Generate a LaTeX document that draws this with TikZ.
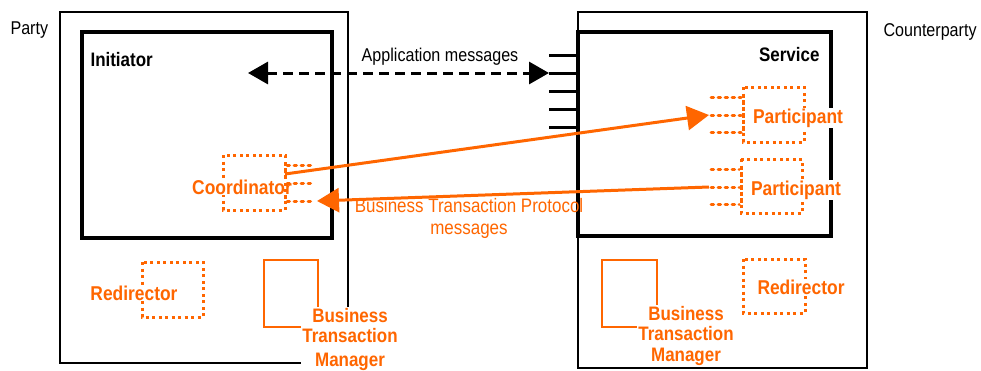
\documentclass[tikz,border=0pt]{standalone}
\usepackage{fontspec}
\setmainfont{Liberation Sans}[FakeStretch=0.87]
\usepackage{tikz,xcolor}
\usetikzlibrary{arrows.meta}
\definecolor{btporange}{RGB}{255,102,0}

\tikzset{
  plain/.style={font=\fontsize{18.5}{22}\selectfont},
  boxname/.style={font=\bfseries\fontsize{19.5}{22}\selectfont},
  role/.style={text=btporange, fill=white, inner sep=1pt, font=\bfseries\fontsize{20}{22}\selectfont},
  dotbox/.style={btporange, line width=3pt, dash pattern=on 3pt off 3.5pt},
  port/.style={btporange, line width=3pt, dash pattern=on 2.5pt off 4.5pt, line cap=round},
  msg/.style={btporange, line width=3pt, -{Triangle[length=22pt,width=24pt]}},
}

\begin{document}
\begin{tikzpicture}[x=1pt,y=-1pt]
\useasboundingbox (0,0) rectangle (981,370);

%party side
\draw[line width=1.5pt] (60,12) rectangle (348,363);
\node[plain, anchor=west] (party) at (7,30) {Party};
\draw[line width=3.5pt] (82,32) rectangle (332,238);
\node[boxname, anchor=west] (init) at (87,60) {Initiator};

%counterparty side
\draw[line width=1.5pt] (578,12) rectangle (867,368);
\node[plain, anchor=west] (cparty) at (880,32) {Counterparty};
\draw[line width=3.5pt] (578,32) rectangle (831,236);
\node[boxname, anchor=east] (serv) at (823,55) {Service};
\foreach \y in {55,73,91,109,127} \draw[line width=3pt] (549,\y) -- (578,\y);

%application messages
\coordinate (ip) at (248,73); \coordinate (sp) at (549,73);
\draw[line width=3pt, dash pattern=on 10pt off 6pt, {Triangle[length=20pt,width=22pt]}-{Triangle[length=20pt,width=22pt]}] (ip) -- (sp);
\node[plain] (appmsg) at (440,57) {Application messages};

%coordinator
\draw[dotbox] (223,155) rectangle (285,210);
\node[role] (coord) at (242,187) {Coordinator};
\draw[dotbox] (285,163) -- (285,203);
\foreach \y in {165,183,201} \draw[port] (287,\y) -- (315,\y);

%participants
\draw[dotbox] (743,87) rectangle (804,142);
\node[role] (part1) at (798,118) {Participant};
\draw[dotbox] (743,95) -- (743,134);
\foreach \y in {97,115,132} \draw[port] (711,\y) -- (741,\y);

\draw[dotbox] (741,159) rectangle (802,213);
\node[role] (part2) at (796,190) {Participant};
\draw[dotbox] (741,167) -- (741,206);
\foreach \y in {169,187,204} \draw[port] (711,\y) -- (739,\y);

%protocol messages
\coordinate (c1) at (285,174); \coordinate (p1) at (709,115);
\coordinate (p2) at (709,187); \coordinate (c3) at (317,201);
\draw[msg] (c1) -- (p1);
\draw[msg] (p2) -- (c3);
\node[text=btporange, font=\fontsize{19.5}{22}\selectfont, align=center] (btp) at (469,218) {Business Transaction Protocol\\messages};

%redirectors
\draw[dotbox] (142,262) rectangle (203,317);
\node[role] (redir1) at (134,293) {Redirector};
\draw[dotbox] (743,259) rectangle (805,313);
\node[role] (redir2) at (801,287) {Redirector};

%transaction managers
\draw[btporange, line width=1.5pt] (264,260) rectangle (318,327);
\node[role, align=center, anchor=north, font=\bfseries\fontsize{19.5}{20.5}\selectfont] (btm1) at (350,307) {Business\\Transaction\\[3pt]Manager};
\draw[btporange, line width=1.5pt] (602,260) rectangle (657,327);
\node[role, align=center, anchor=north, font=\bfseries\fontsize{19.5}{20.5}\selectfont] (btm2) at (686,305) {Business\\Transaction\\Manager};

\end{tikzpicture}
\end{document}
